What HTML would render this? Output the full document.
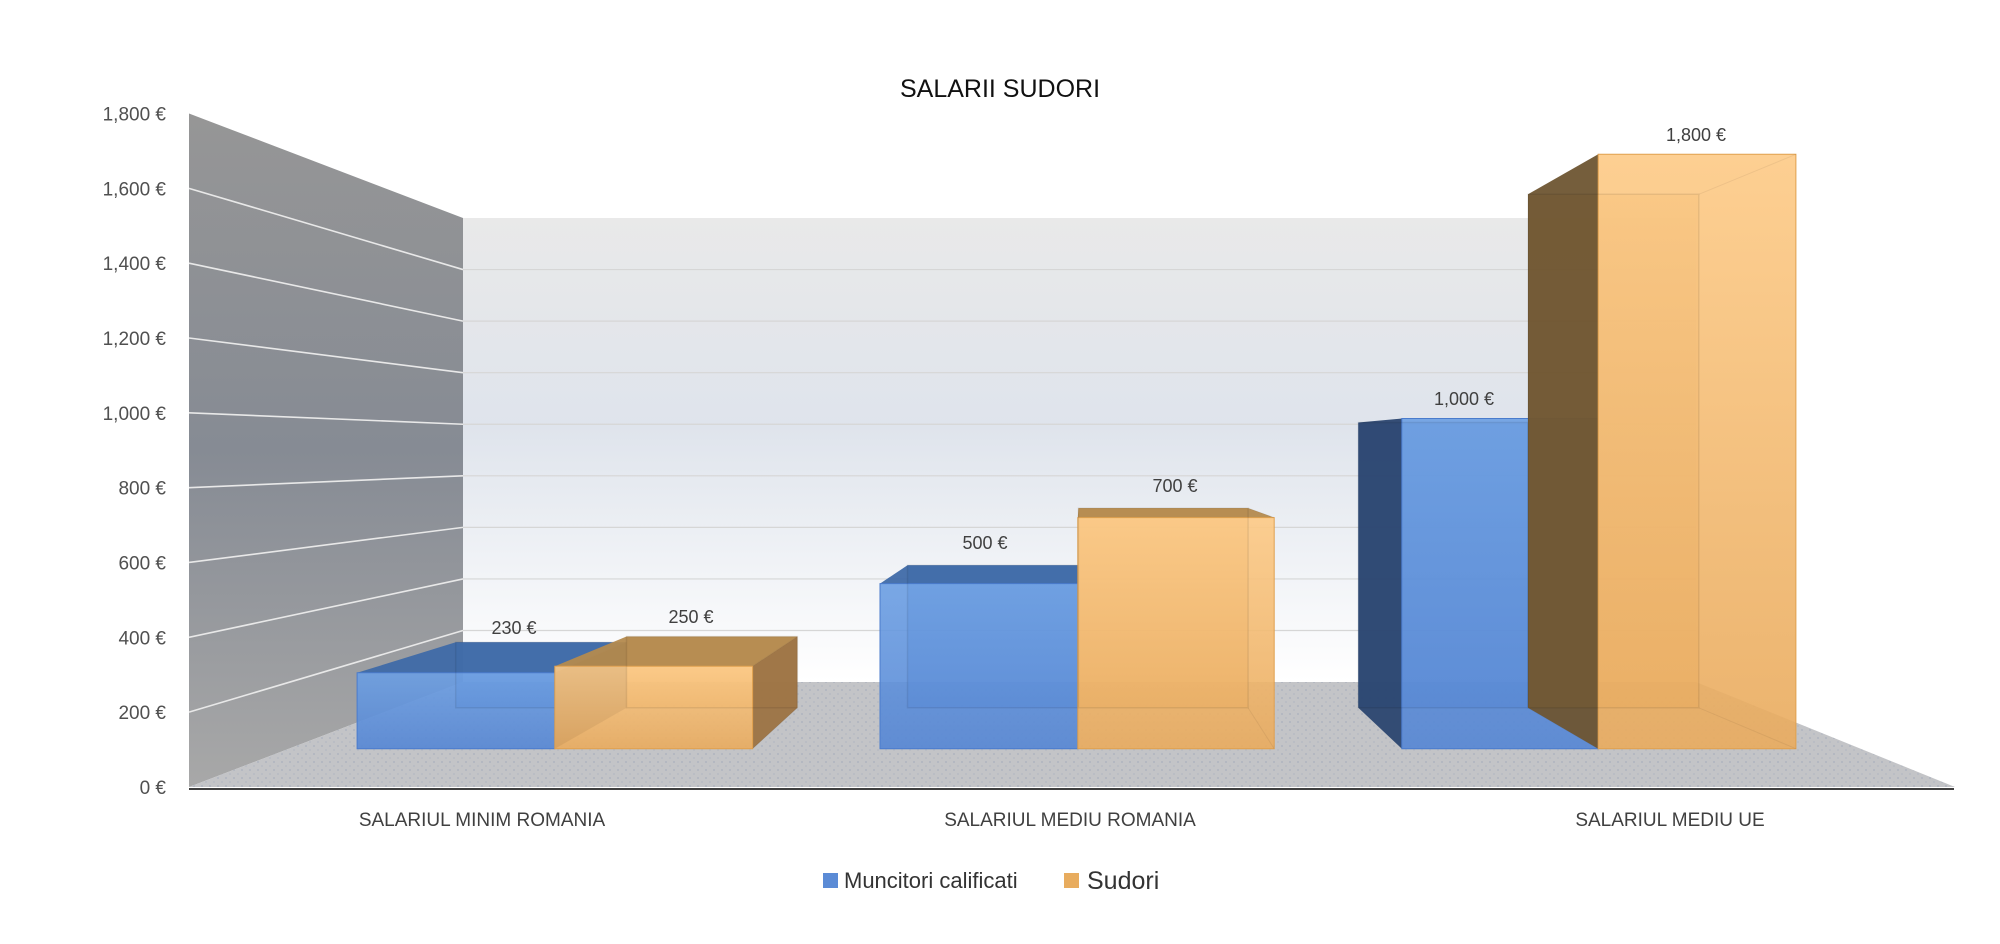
<!DOCTYPE html>
<html><head><meta charset="utf-8">
<style>
html,body{margin:0;padding:0;background:#fff;}
svg{display:block;}
text{font-family:"Liberation Sans",sans-serif;}
</style></head>
<body>
<svg id="s" width="2000" height="944" viewBox="0 0 2000 944" xmlns="http://www.w3.org/2000/svg">
<defs>
<linearGradient id="lw" x1="0" y1="0" x2="0" y2="1">
<stop offset="0" stop-color="#969696"/><stop offset="0.5" stop-color="#868b94"/><stop offset="1" stop-color="#a8a8a8"/>
</linearGradient>
<linearGradient id="bw" x1="0" y1="0" x2="0" y2="1">
<stop offset="0" stop-color="#e9e9e9"/><stop offset="0.45" stop-color="#dfe4ec"/><stop offset="1" stop-color="#ffffff"/>
</linearGradient>
<linearGradient id="gB" x1="0" y1="0" x2="0" y2="1">
<stop offset="0" stop-color="#6c9fe3"/><stop offset="1" stop-color="#5586d4"/>
</linearGradient>
<linearGradient id="gO" x1="0" y1="0" x2="0" y2="1">
<stop offset="0" stop-color="#fdca86"/><stop offset="1" stop-color="#e9ab5e"/>
</linearGradient>
<pattern id="dots" width="8" height="8" patternUnits="userSpaceOnUse">
<rect width="8" height="8" fill="#c3c4c7"/><circle cx="2" cy="2" r="0.9" fill="#a9b0bd"/><circle cx="6" cy="6" r="0.9" fill="#b3b8c2"/>
</pattern>
</defs>
<text x="1000" y="97" text-anchor="middle" font-size="25" fill="#111">SALARII SUDORI</text>
<polygon points="189,113.5 463,218 463,682 189,787" fill="url(#lw)"/>
<polygon points="463,218 1696,218 1696,682 463,682" fill="url(#bw)"/>
<polygon points="189,787 463,682 1696,682 1955,787" fill="url(#dots)"/>
<g id="grid"></g>
<g id="bars"></g>
<line x1="189" y1="789" x2="1954" y2="789" stroke="#404040" stroke-width="2"/>
<g font-size="19" fill="#505050" text-anchor="end" id="yl"></g>
<g font-size="18" fill="#404040" text-anchor="middle">
<text x="514" y="634">230 €</text>
<text x="691" y="623">250 €</text>
<text x="985" y="549">500 €</text>
<text x="1175" y="492">700 €</text>
<text x="1464" y="405">1,000 €</text>
<text x="1696" y="141">1,800 €</text>
</g>
<g font-size="19" fill="#404040" text-anchor="middle">
<text x="482" y="826">SALARIUL MINIM ROMANIA</text>
<text x="1070" y="826">SALARIUL MEDIU ROMANIA</text>
<text x="1670" y="826">SALARIUL MEDIU UE</text>
</g>
<rect x="823" y="873" width="15" height="15" fill="#5b8bd6"/>
<text x="844" y="888" font-size="22" fill="#333">Muncitori calificati</text>
<rect x="1064" y="873" width="15" height="15" fill="#e8ac5e"/>
<text x="1087" y="889" font-size="25" fill="#333">Sudori</text>
</svg>
<script>
var NS="http://www.w3.org/2000/svg";
function el(p,t,a){var e=document.createElementNS(NS,t);for(var k in a)e.setAttribute(k,a[k]);p.appendChild(e);return e;}
var grid=document.getElementById('grid'),yl=document.getElementById('yl'),bars=document.getElementById('bars');
for(var k=0;k<=9;k++){
  var yL=113.5+k*74.83,yB=218+k*51.56;
  if(k>0&&k<9){el(grid,'line',{x1:189,y1:yL,x2:463,y2:yB,stroke:'#e8e8e8','stroke-width':1.6});
  el(grid,'line',{x1:463,y1:yB,x2:1696,y2:yB,stroke:'#d6d6d6','stroke-width':1.2});}
  var v=(9-k)*200;var s=v>=1000?(Math.floor(v/1000)+','+String(v%1000).padStart(3,'0')):String(v);
  var t=el(yl,'text',{x:166,y:yL+7});t.textContent=s+' €';
}
var VX=1082,VY=448,S=0.864,YF=748.7,PX=0.3302;
function back(p){return [VX+S*(p[0]-VX),VY+S*(p[1]-VY)];}
function pts(a){return a.map(function(p){return p[0].toFixed(1)+','+p[1].toFixed(1)}).join(' ');}
function poly(a,fill,op,stroke){el(bars,'polygon',{points:pts(a),fill:fill,'fill-opacity':op,stroke:stroke||'none','stroke-width':1});}
var B={front:'url(#gB)',top:'#3f6aa8',side:'#2b4670',back:'#4a78c0',edge:'#4a7bcc'};
var O={front:'url(#gO)',top:'#b48a4e',side:'#6e5532',back:'#d9a058',edge:'#e0a04e'};
var data=[[357.1,554.8,230,B],[554.8,752.6,250,O],[880,1077.8,500,B],[1077.8,1274.2,700,O],[1401.8,1598.2,1000,B],[1598.2,1795.9,1800,O]];
data.forEach(function(d){
  var x0=d[0],x1=d[1],yt=YF-d[2]*PX,c=d[3];
  var f=[[x0,yt],[x1,yt],[x1,YF],[x0,YF]];
  var b=f.map(back);
  poly([b[0],b[1],b[2],b[3]],c.back,0.6);
  if(x0>VX) poly([f[0],b[0],b[3],f[3]],c.side,0.95);
  if(x1<VX) poly([f[1],b[1],b[2],f[2]],c.side==O.side?'#9c7343':c.side,0.95);
  if(yt>VY) poly([f[0],f[1],b[1],b[0]],c.top,0.95);
  poly(f,c.front,0.9,c.edge);
  el(bars,'polygon',{points:pts([b[0],b[1],b[2],b[3]]),fill:'none',stroke:'#000','stroke-opacity':0.08,'stroke-width':1.5});
  el(bars,'line',{x1:b[1][0],y1:b[1][1],x2:f[1][0],y2:f[1][1],stroke:'#000','stroke-opacity':0.06});
  el(bars,'line',{x1:b[2][0],y1:b[2][1],x2:f[2][0],y2:f[2][1],stroke:'#000','stroke-opacity':0.06});
});
</script>
</body></html>
